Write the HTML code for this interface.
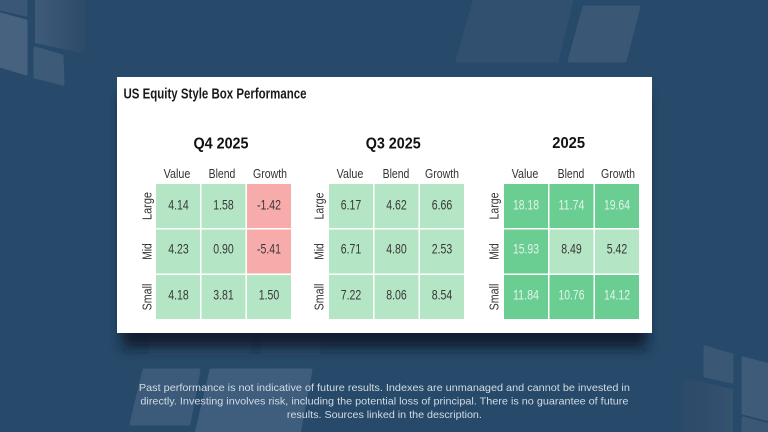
<!DOCTYPE html>
<html>
<head>
<meta charset="utf-8">
<style>
  html,body{margin:0;padding:0;background:#274a6a;}
  body{width:768px;height:432px;overflow:hidden;}
  svg{display:block;}
  text{font-family:"Liberation Sans",sans-serif;}
</style>
</head>
<body>
<svg width="768" height="432" viewBox="0 0 768 432" xmlns="http://www.w3.org/2000/svg">
  <defs>
    <linearGradient id="gC" x1="0" y1="0" x2="1" y2="0">
      <stop offset="0" stop-color="#3f5b7a"/>
      <stop offset="1" stop-color="#2d4a69"/>
    </linearGradient>
    <linearGradient id="gG" x1="0" y1="0" x2="1" y2="0">
      <stop offset="0" stop-color="#2c4a69"/>
      <stop offset="1" stop-color="#35526f"/>
    </linearGradient>
    <filter id="sh" x="-10%" y="-10%" width="120%" height="140%">
      <feGaussianBlur stdDeviation="6"/>
    </filter>
  </defs>

  <rect width="768" height="432" fill="#274a6a"/>

  <!-- decorative shapes -->
  <g stroke-linejoin="round" stroke-width="3">
    <polygon points="0,0 26,0 26,15 0,9" fill="#3a5777" stroke="#3a5777"/>
    <polygon points="0,14 26,21 26,74 0,66" fill="#46627f" stroke="#46627f"/>
    <polygon points="35,0 86,0 86,54 35,43" fill="url(#gC)" stroke="none"/>
    <polygon points="35,48 62,56 63,84 35,77" fill="#3e5a79" stroke="#3e5a79"/>

    <polygon points="474,1 572,1 557,61 457,61" fill="#31506f" stroke="#31506f"/>
    <polygon points="584,7 639,7 625,61 569,61" fill="#3a5776" stroke="#3a5776"/>

    <polygon points="152,334 252,334 248,353 150,353" fill="#2f4f6e" stroke="#2f4f6e"/>
    <polygon points="264,334 322,334 318,353 262,353" fill="#2f4f6e" stroke="#2f4f6e"/>

    <polygon points="144,370 199,370 189,424 131,424" fill="#3c5a79" stroke="#3c5a79"/>
    <polygon points="211,370 311,370 299,434 196,434" fill="#3f5d7c" stroke="#3f5d7c"/>

    <polygon points="705,347 732,355 732,382 705,376" fill="#3a5776" stroke="#3a5776"/>
    <polygon points="743,358 770,365 770,420 743,413" fill="#3e5b7a" stroke="#3e5b7a"/>
    <polygon points="682,378 733,389 733,434 682,434" fill="url(#gG)" stroke="none"/>
    <polygon points="743,418 770,425 770,434 743,434" fill="#3a5776" stroke="#3a5776"/>
  </g>

  <!-- card shadow -->
  <rect x="122" y="96" width="525" height="252" fill="#0c1826" opacity="0.85" filter="url(#sh)"/>
  <!-- card -->
  <rect x="117" y="77" width="535" height="256" fill="#ffffff"/>

  <text x="123.5" y="98.5" font-size="14.5" font-weight="bold" fill="#1a1a1a" textLength="183" lengthAdjust="spacingAndGlyphs">US Equity Style Box Performance</text>

  <!-- Section titles -->
  <text x="193.5" y="148.3" font-size="15.5" font-weight="bold" fill="#111" textLength="55" lengthAdjust="spacingAndGlyphs">Q4 2025</text>
  <text x="365.7" y="148.3" font-size="15.5" font-weight="bold" fill="#111" textLength="55" lengthAdjust="spacingAndGlyphs">Q3 2025</text>
  <text x="552.3" y="147.8" font-size="15.5" font-weight="bold" fill="#111" textLength="32.7" lengthAdjust="spacingAndGlyphs">2025</text>

  <!-- labels -->
  <g font-size="12.5" fill="#333" text-anchor="middle">
    <text x="177" y="178" textLength="26.7" lengthAdjust="spacingAndGlyphs">Value</text>
    <text x="222" y="178" textLength="26.7" lengthAdjust="spacingAndGlyphs">Blend</text>
    <text x="270" y="178" textLength="34" lengthAdjust="spacingAndGlyphs">Growth</text>
    <text transform="translate(151.5,206) rotate(-90)" textLength="28" lengthAdjust="spacingAndGlyphs">Large</text>
    <text transform="translate(151.5,251.5) rotate(-90)" textLength="16.5" lengthAdjust="spacingAndGlyphs">Mid</text>
    <text transform="translate(151.5,297) rotate(-90)" textLength="26.7" lengthAdjust="spacingAndGlyphs">Small</text>

    <text x="350" y="178" textLength="26.7" lengthAdjust="spacingAndGlyphs">Value</text>
    <text x="396" y="178" textLength="26.7" lengthAdjust="spacingAndGlyphs">Blend</text>
    <text x="442" y="178" textLength="34" lengthAdjust="spacingAndGlyphs">Growth</text>
    <text transform="translate(323.5,206) rotate(-90)" textLength="27" lengthAdjust="spacingAndGlyphs">Large</text>
    <text transform="translate(323.5,251.5) rotate(-90)" textLength="16.5" lengthAdjust="spacingAndGlyphs">Mid</text>
    <text transform="translate(323.5,297) rotate(-90)" textLength="26.7" lengthAdjust="spacingAndGlyphs">Small</text>

    <text x="525" y="178" textLength="26.7" lengthAdjust="spacingAndGlyphs">Value</text>
    <text x="571" y="178" textLength="26.7" lengthAdjust="spacingAndGlyphs">Blend</text>
    <text x="618" y="178" textLength="34" lengthAdjust="spacingAndGlyphs">Growth</text>
    <text transform="translate(498.5,206) rotate(-90)" textLength="27" lengthAdjust="spacingAndGlyphs">Large</text>
    <text transform="translate(498.5,251.5) rotate(-90)" textLength="16.5" lengthAdjust="spacingAndGlyphs">Mid</text>
    <text transform="translate(498.5,297) rotate(-90)" textLength="26.7" lengthAdjust="spacingAndGlyphs">Small</text>
  </g>

  <!-- Q4 cells -->
  <g>
    <rect x="156" y="184" width="44" height="44" fill="#b4e5c5"/>
    <rect x="201.5" y="184" width="44" height="44" fill="#b4e5c5"/>
    <rect x="247" y="184" width="44" height="44" fill="#f8abab"/>
    <rect x="156" y="229.5" width="44" height="44" fill="#b4e5c5"/>
    <rect x="201.5" y="229.5" width="44" height="44" fill="#b4e5c5"/>
    <rect x="247" y="229.5" width="44" height="44" fill="#f8abab"/>
    <rect x="156" y="275" width="44" height="44" fill="#b4e5c5"/>
    <rect x="201.5" y="275" width="44" height="44" fill="#b4e5c5"/>
    <rect x="247" y="275" width="44" height="44" fill="#b4e5c5"/>
  </g>
  <!-- Q3 cells -->
  <g fill="#b4e5c5">
    <rect x="329" y="184" width="44" height="44"/>
    <rect x="374.5" y="184" width="44" height="44"/>
    <rect x="420" y="184" width="44" height="44"/>
    <rect x="329" y="229.5" width="44" height="44"/>
    <rect x="374.5" y="229.5" width="44" height="44"/>
    <rect x="420" y="229.5" width="44" height="44"/>
    <rect x="329" y="275" width="44" height="44"/>
    <rect x="374.5" y="275" width="44" height="44"/>
    <rect x="420" y="275" width="44" height="44"/>
  </g>
  <!-- 2025 cells -->
  <g>
    <rect x="504" y="184" width="44" height="44" fill="#6acd91"/>
    <rect x="549.5" y="184" width="44" height="44" fill="#6acd91"/>
    <rect x="595" y="184" width="44" height="44" fill="#6acd91"/>
    <rect x="504" y="229.5" width="44" height="44" fill="#6acd91"/>
    <rect x="549.5" y="229.5" width="44" height="44" fill="#b4e5c5"/>
    <rect x="595" y="229.5" width="44" height="44" fill="#b4e5c5"/>
    <rect x="504" y="275" width="44" height="44" fill="#6acd91"/>
    <rect x="549.5" y="275" width="44" height="44" fill="#6acd91"/>
    <rect x="595" y="275" width="44" height="44" fill="#6acd91"/>
  </g>

  <!-- values -->
  <g font-size="13.5" fill="#383838" text-anchor="middle">
    <text x="178.5" y="209.3" textLength="20.5" lengthAdjust="spacingAndGlyphs">4.14</text>
    <text x="223.5" y="209.3" textLength="20.5" lengthAdjust="spacingAndGlyphs">1.58</text>
    <text x="269" y="209.3" textLength="24" lengthAdjust="spacingAndGlyphs">-1.42</text>
    <text x="178.5" y="253.5" textLength="20.5" lengthAdjust="spacingAndGlyphs">4.23</text>
    <text x="223.5" y="253.5" textLength="20.5" lengthAdjust="spacingAndGlyphs">0.90</text>
    <text x="269" y="253.5" textLength="24" lengthAdjust="spacingAndGlyphs">-5.41</text>
    <text x="178.5" y="299.5" textLength="20.5" lengthAdjust="spacingAndGlyphs">4.18</text>
    <text x="223.5" y="299.5" textLength="20.5" lengthAdjust="spacingAndGlyphs">3.81</text>
    <text x="269" y="299.5" textLength="20.5" lengthAdjust="spacingAndGlyphs">1.50</text>

    <text x="351" y="209.3" textLength="20.5" lengthAdjust="spacingAndGlyphs">6.17</text>
    <text x="396.5" y="209.3" textLength="20.5" lengthAdjust="spacingAndGlyphs">4.62</text>
    <text x="442" y="209.3" textLength="20.5" lengthAdjust="spacingAndGlyphs">6.66</text>
    <text x="351" y="253.5" textLength="20.5" lengthAdjust="spacingAndGlyphs">6.71</text>
    <text x="396.5" y="253.5" textLength="20.5" lengthAdjust="spacingAndGlyphs">4.80</text>
    <text x="442" y="253.5" textLength="20.5" lengthAdjust="spacingAndGlyphs">2.53</text>
    <text x="351" y="299.5" textLength="20.5" lengthAdjust="spacingAndGlyphs">7.22</text>
    <text x="396.5" y="299.5" textLength="20.5" lengthAdjust="spacingAndGlyphs">8.06</text>
    <text x="442" y="299.5" textLength="20.5" lengthAdjust="spacingAndGlyphs">8.54</text>

    <text x="571.5" y="253.5" textLength="20.5" lengthAdjust="spacingAndGlyphs">8.49</text>
    <text x="617" y="253.5" textLength="20.5" lengthAdjust="spacingAndGlyphs">5.42</text>
  </g>
  <g font-size="13.5" fill="#e3f4e9" text-anchor="middle">
    <text x="526" y="209.3" textLength="26" lengthAdjust="spacingAndGlyphs">18.18</text>
    <text x="571.5" y="209.3" textLength="26" lengthAdjust="spacingAndGlyphs">11.74</text>
    <text x="617" y="209.3" textLength="26" lengthAdjust="spacingAndGlyphs">19.64</text>
    <text x="526" y="253.5" textLength="26" lengthAdjust="spacingAndGlyphs">15.93</text>
    <text x="526" y="299.5" textLength="26" lengthAdjust="spacingAndGlyphs">11.84</text>
    <text x="571.5" y="299.5" textLength="26" lengthAdjust="spacingAndGlyphs">10.76</text>
    <text x="617" y="299.5" textLength="26" lengthAdjust="spacingAndGlyphs">14.12</text>
  </g>

  <!-- footer -->
  <g font-size="10.5" fill="#d3dbe4" text-anchor="middle">
    <text x="384.4" y="391" textLength="491" lengthAdjust="spacingAndGlyphs">Past performance is not indicative of future results. Indexes are unmanaged and cannot be invested in</text>
    <text x="384.4" y="404.5" textLength="488" lengthAdjust="spacingAndGlyphs">directly. Investing involves risk, including the potential loss of principal. There is no guarantee of future</text>
    <text x="384.4" y="418" textLength="195" lengthAdjust="spacingAndGlyphs">results. Sources linked in the description.</text>
  </g>
</svg>
</body>
</html>
